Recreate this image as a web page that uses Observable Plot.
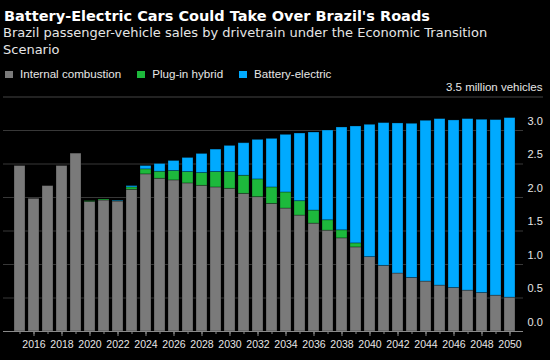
<!DOCTYPE html>
<html>
<head>
<meta charset="utf-8">
<script src="https://cdn.jsdelivr.net/npm/d3@7"></script>
<script src="https://cdn.jsdelivr.net/npm/@observablehq/plot@0.6"></script>
<style>
  html, body { margin: 0; padding: 0; background: #000; }
  body { width: 550px; height: 360px; position: relative; overflow: hidden; font-family: "Liberation Sans", Arial, sans-serif; }
  #title { position: absolute; left: 4px; top: 7px; font: bold 14.5px/18px "DejaVu Sans", sans-serif; color: #fff; white-space: nowrap; }
  #subtitle { position: absolute; left: 3px; top: 23.5px; width: 500px; font: 13px/17px "DejaVu Sans", sans-serif; color: #e6e6e6; }
  #legend { position: absolute; left: 5px; top: 66px; font: 11.6px/16px "Liberation Sans", sans-serif; color: #e6e6e6; display: flex; white-space: nowrap; }
  #legend span.item { display: inline-flex; align-items: center; margin-right: 16px; }
  #legend span.sw { display: inline-block; width: 8px; height: 7px; margin-right: 7px; }
  #chart { position: absolute; left: 0; top: 80px; }
</style>
</head>
<body>
<div id="title">Battery-Electric Cars Could Take Over Brazil's Roads</div>
<div id="subtitle">Brazil passenger-vehicle sales by drivetrain under the Economic Transition Scenario</div>
<div id="legend"></div>
<div id="chart"></div>
<script>
const years = d3.range(2015, 2051);
const seriesNames = ["Internal combustion", "Plug-in hybrid", "Battery-electric"];
const seriesColors = ["#7a7a7a", "#1db93c", "#00aaff"];
const internalCombustion = [2.47, 1.98, 2.17, 2.47, 2.655, 1.935, 1.955, 1.94, 2.115, 2.345, 2.28, 2.255, 2.21, 2.175, 2.15, 2.13, 2.055, 2.005, 1.905, 1.835, 1.73, 1.61, 1.505, 1.39, 1.255, 1.11, 0.98, 0.865, 0.80, 0.745, 0.685, 0.65, 0.61, 0.575, 0.535, 0.505];
const plugInHybrid = [0, 0, 0, 0, 0, 0.01, 0.015, 0.005, 0.035, 0.075, 0.105, 0.14, 0.17, 0.19, 0.23, 0.25, 0.27, 0.265, 0.245, 0.24, 0.215, 0.195, 0.155, 0.12, 0.06, 0, 0, 0, 0, 0, 0, 0, 0, 0, 0, 0];
const batteryElectric = [0, 0, 0, 0, 0, 0, 0, 0.01, 0.02, 0.05, 0.115, 0.15, 0.21, 0.285, 0.335, 0.39, 0.485, 0.59, 0.725, 0.86, 1.01, 1.165, 1.34, 1.535, 1.745, 1.975, 2.13, 2.24, 2.30, 2.40, 2.485, 2.50, 2.56, 2.585, 2.62, 2.68];
const yTicks = [0, 0.5, 1.0, 1.5, 2.0, 2.5, 3.0];
const xLabelYears = years.filter(y => y % 2 === 0);
const unitLabel = "3.5 million vehicles";

const seriesValues = [internalCombustion, plugInHybrid, batteryElectric];
const data = [];
seriesNames.forEach((s, i) => years.forEach((yr, j) => data.push({year: yr, series: s, value: seriesValues[i][j]})));

// legend
const legend = document.getElementById("legend");
seriesNames.forEach((s, i) => {
  const it = document.createElement("span");
  it.className = "item";
  it.innerHTML = `<span class="sw" style="background:${seriesColors[i]}"></span>${s}`;
  legend.appendChild(it);
});

const chart = Plot.plot({
  width: 550,
  height: 280,
  marginTop: 16.5,
  marginBottom: 29,
  marginLeft: 6,
  marginRight: 27,
  style: {background: "#000", color: "#ddd", fontFamily: "Liberation Sans, Arial, sans-serif", fontSize: "10.5px", overflow: "visible"},
  x: {type: "band", domain: years, paddingInner: 0.23, paddingOuter: 0.115, align: 0.5, axis: null, label: null},
  y: {domain: [0, 3.5], axis: null},
  color: {domain: seriesNames, range: seriesColors},
  marks: [
    Plot.ruleY(yTicks.filter(v => v > 0), {stroke: "#383838", strokeWidth: 1, insetLeft: -3}),
    Plot.ruleY([3.5], {stroke: "#444", strokeWidth: 1.2, insetLeft: -3, insetRight: -20}),
    Plot.barY(data, Plot.stackY({order: seriesNames}, {x: "year", y: "value", fill: "series", stroke: "#000", strokeOpacity: 0.35, strokeWidth: 0.8})),
    Plot.ruleY([0], {stroke: "#8a8a8a", strokeWidth: 1, insetLeft: -3}),
    Plot.axisX(years, {tickSize: 3, text: null, stroke: "#8a8a8a", label: null}),
    Plot.axisX(xLabelYears, {tickSize: 5, tickPadding: 4, stroke: "#8a8a8a", fill: "#e6e6e6", fontSize: "10.5px", tickFormat: d => String(d), label: null}),
    Plot.text(yTicks, {y: d => d, text: d => d3.format(".1f")(d), frameAnchor: "right", textAnchor: "start", dx: 4, dy: -9.5, fill: "#e6e6e6", fontSize: "11px"}),
    Plot.text([3.5], {y: d => d, text: () => unitLabel, frameAnchor: "right", textAnchor: "end", dx: 19, dy: -10, fill: "#e6e6e6", fontSize: "11.5px"})
  ]
});
document.getElementById("chart").appendChild(chart);
</script>
</body>
</html>
